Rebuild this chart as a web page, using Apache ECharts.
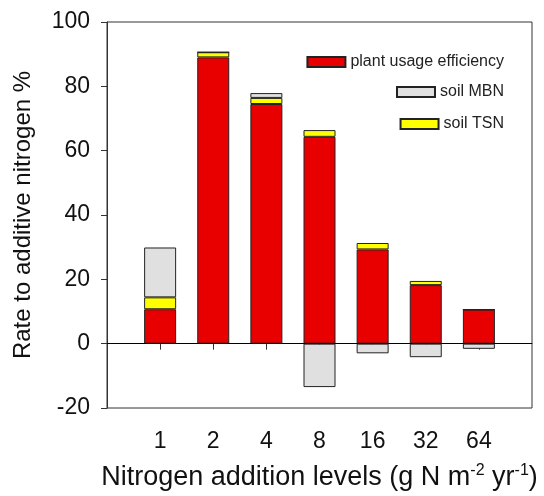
<!DOCTYPE html>
<html>
<head>
<meta charset="utf-8">
<script src="https://cdn.jsdelivr.net/npm/echarts@6/dist/echarts.min.js"></script>
<style>
  html, body { margin: 0; padding: 0; background: #fff; }
  #chart { width: 544px; height: 496px; }
</style>
</head>
<body>
<div id="chart"></div>
<script>
// nitrogen addition levels (g N m-2 yr-1)
const categories = ['1', '2', '4', '8', '16', '32', '64']
// rate to additive nitrogen, %
const plantUsage = [10.7, 89.0, 74.5, 64.3, 29.3, 18.2, 10.6]
const soilTSN = [3.7, 1.6, 1.9, 2.1, 2.0, 1.3, 0]
const soilMBN = [15.5, 0, 1.5, -13.5, -3.0, -4.2, -1.6]
const yTicks = [-20, 0, 20, 40, 60, 80, 100]

const FONT = "'Liberation Sans', Arial, sans-serif"

// pad an empty slot each side so the bars sit at 1..7 of a 0..8 axis
const pad = arr => [null, ...arr, null]
const axisCats = ['', ...categories, '']

const chart = echarts.init(document.getElementById('chart'))

function legendItem(name, top) {
  return {
    data: [{ name: name, icon: 'rect' }],
    right: 35,
    top: top,
    itemWidth: 38,
    itemHeight: 10,
    itemGap: 9,
    selectedMode: false,
    textStyle: { fontFamily: FONT, fontSize: 16, color: '#222' }
  }
}

function barSeries(name, data, color) {
  return {
    name: name,
    type: 'bar',
    stack: 'n',
    barWidth: 32,
    data: pad(data),
    itemStyle: { color: color, borderColor: '#222', borderWidth: 1 }
  }
}

const plant = barSeries('plant usage efficiency', plantUsage, '#e80000')
plant.markLine = {
  silent: true,
  symbol: 'none',
  label: { show: false },
  lineStyle: { color: '#000', type: 'solid', width: 1 },
  data: [{ yAxis: 0 }]
}

chart.setOption({
  animation: false,
  backgroundColor: '#fff',
  grid: {
    left: 107, right: 12, top: 22, bottom: 88,
    outerBoundsMode: 'none',
    show: true, borderColor: '#333', borderWidth: 1
  },
  legend: [
    legendItem('plant usage efficiency', 49),
    legendItem('soil MBN', 79),
    legendItem('soil TSN', 111)
  ],
  xAxis: {
    type: 'category',
    data: axisCats,
    boundaryGap: false,
    axisLine: { lineStyle: { color: '#333' } },
    axisTick: {
      length: 6,
      lineStyle: { color: '#333' },
      interval: (i, v) => v !== ''
    },
    axisLabel: {
      fontFamily: FONT, fontSize: 23, color: '#111', margin: 22,
      interval: 0
    },
    name: 'Nitrogen addition levels (g N m{sup|-2} yr{sup|-1})',
    nameLocation: 'middle',
    nameGap: 55,
    nameTextStyle: {
      fontFamily: FONT, fontSize: 27, color: '#111', lineHeight: 30,
      rich: {
        sup: { fontFamily: FONT, fontSize: 16, color: '#111', verticalAlign: 'top', lineHeight: 30 }
      }
    }
  },
  yAxis: {
    type: 'value',
    min: yTicks[0],
    max: yTicks[yTicks.length - 1],
    interval: 20,
    splitLine: { show: false },
    axisLine: { show: true, lineStyle: { color: '#333' } },
    axisTick: { show: true, length: 6, lineStyle: { color: '#333' } },
    axisLabel: { fontFamily: FONT, fontSize: 23, color: '#111', margin: 17 },
    name: 'Rate to additive nitrogen %',
    nameLocation: 'middle',
    nameGap: 72,
    nameTextStyle: { fontFamily: FONT, fontSize: 24, color: '#111' }
  },
  series: [
    plant,
    barSeries('soil TSN', soilTSN, '#ffff00'),
    barSeries('soil MBN', soilMBN, '#e0e0e0')
  ]
})
</script>
</body>
</html>
